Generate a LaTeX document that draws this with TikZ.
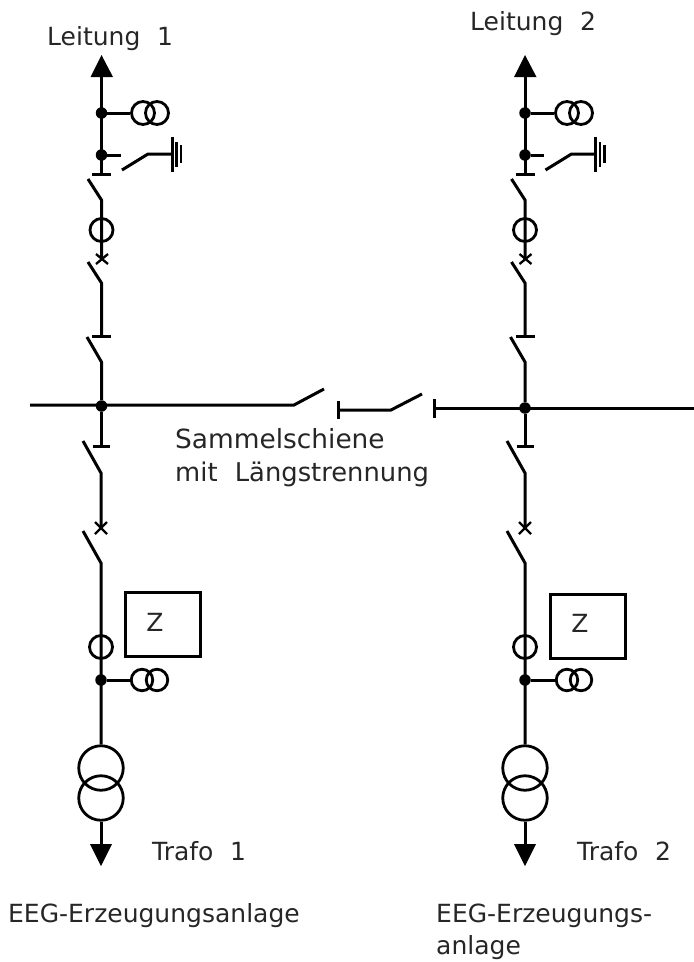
\documentclass[tikz,border=0pt]{standalone}
\usepackage{fontspec}
\setmainfont[WordSpace=2.1]{DejaVu Sans}
\usetikzlibrary{calc,arrows}
\tikzset{
    wire/.style={line width=3pt,line cap=butt},
    thinwire/.style={line width=2.3pt,line cap=butt},
    junction/.style={circle,fill=black,inner sep=0pt,minimum size=11.5pt},
    ring/.style={circle,draw,line width=2.8pt,inner sep=0pt,minimum size=#1},
    ring/.default=23pt,
    arrowhead/.style={fill=black,draw=none},
    caption/.style={anchor=base west,inner sep=0pt,text=black!85,font=\fontsize{25}{30}\selectfont},
    meter/.style={draw,line width=3pt,inner sep=0pt}
}
\begin{document}
\begin{tikzpicture}[x=1pt,y=-1pt]
            \useasboundingbox (0, 0) rectangle (694, 962);
            % busbar with its sectionalizer
            \node[junction] (busA) at (101.5, 406) {};
            \node[junction] (busB) at (525, 408) {};
            \coordinate (busL) at (30, 405);
            \coordinate (busAhinge) at (294, 405);
            \coordinate (busAblade) at (324, 389);
            \coordinate (midbar) at (338, 410);
            \coordinate (midhinge) at (391, 410);
            \coordinate (midblade) at (422, 394);
            \coordinate (busBbar) at (434, 408);
            \coordinate (busR) at (694, 408);
            \draw [wire] (busL) -- (busAhinge) -- (busAblade);
            \draw [wire] (midbar) -- (midhinge) -- (midblade);
            \draw [wire] (busBbar) -- (busR);
            \draw [wire] (338, 401) -- (338, 419);
            \draw [wire] (434, 399) -- (434, 418);
            % column 1, line feeder
            \draw [arrowhead] (101.5, 55) -- (113, 77) -- (90.5, 77) -- cycle;
            \node[junction] (vtA) at (101.5, 113) {};
            \node[junction] (esA) at (101.5, 155) {};
            \node[ring] (vtAa) at (143, 113) {};
            \node[ring] (vtAb) at (157, 113) {};
            \node[ring] (ctA) at (101.5, 230) {};
            \coordinate (topA) at (101.5, 77);
            \coordinate (barA) at (101.5, 174);
            \coordinate (hingeA) at (101.5, 200);
            \coordinate (crossA) at (101.5, 259);
            \coordinate (hingeAb) at (101.5, 283);
            \coordinate (barAb) at (101.5, 336);
            \coordinate (hingeAc) at (101.5, 362);
            \draw [wire] (topA) -- (barA);
            \draw [wire] (vtA) -- (vtAa);
            \draw [wire] (esA) -- (121, 155);
            \draw [wire] (92, 174) -- (111, 174);
            \draw [wire] (122, 170) -- (148, 154) -- (172, 154);
            \draw [wire] (172, 137) -- (172, 172);
            \draw [thinwire] (176.5, 142) -- (176.5, 167);
            \draw [thinwire] (181, 145) -- (181, 163);
            \draw [wire] (88, 179) -- (hingeA) -- (crossA);
            \draw [thinwire] (96, 254) -- (108, 264);
            \draw [thinwire] (96, 264) -- (108, 254);
            \draw [wire] (88, 262) -- (hingeAb) -- (barAb);
            \draw [wire] (92, 336) -- (111, 336);
            \draw [wire] (87, 337) -- (hingeAc) -- (busA);
            % column 1, transformer feeder
            \node[junction] (vtAlow) at (101, 680) {};
            \node[ring=21.5pt] (vtAc) at (142, 680) {};
            \node[ring=21.5pt] (vtAd) at (157, 680) {};
            \node[ring] (ctAlow) at (101, 647) {};
            \node[ring=44.5pt] (trafoA) at (101, 768) {};
            \node[ring=44.5pt] (trafoAb) at (101, 798) {};
            \node[meter,minimum width=75pt,minimum height=64pt] (zA) at (162.5, 624) {};
            \node[caption,anchor=center] (zAtext) at (155, 622) {Z};
            \coordinate (barAlow) at (101.5, 446);
            \coordinate (hingeAlow) at (101, 473);
            \coordinate (crossAlow) at (101, 528);
            \coordinate (hingeAend) at (101, 563);
            \coordinate (baseA) at (101, 844);
            \draw [wire] (busA) -- (barAlow);
            \draw [wire] (93, 446) -- (110, 446);
            \draw [wire] (83, 441) -- (hingeAlow) -- (crossAlow);
            \draw [thinwire] (95, 522) -- (107, 534);
            \draw [thinwire] (95, 534) -- (107, 522);
            \draw [wire] (83, 531) -- (hingeAend) -- (trafoA.north);
            \draw [wire] (vtAlow) -- (vtAc);
            \draw [wire] (trafoAb.south) -- (baseA);
            \draw [arrowhead] (90, 844) -- (112, 844) -- (101, 866) -- cycle;
            % column 2, line feeder
            \draw [arrowhead] (525, 55) -- (536.5, 77) -- (514, 77) -- cycle;
            \node[junction] (vtB) at (525, 113) {};
            \node[junction] (esB) at (525, 155) {};
            \node[ring] (vtBa) at (567, 113) {};
            \node[ring] (vtBb) at (581, 113) {};
            \node[ring] (ctB) at (525, 230) {};
            \coordinate (topB) at (525, 77);
            \coordinate (barB) at (525, 174);
            \coordinate (hingeB) at (525, 200);
            \coordinate (crossB) at (525, 259);
            \coordinate (hingeBb) at (525, 283);
            \coordinate (barBb) at (525, 336);
            \coordinate (hingeBc) at (525, 362);
            \draw [wire] (topB) -- (barB);
            \draw [wire] (vtB) -- (vtBa);
            \draw [wire] (esB) -- (544, 155);
            \draw [wire] (515.5, 174) -- (534.5, 174);
            \draw [wire] (545.5, 170) -- (571.5, 154) -- (595.5, 154);
            \draw [wire] (595.5, 137) -- (595.5, 172);
            \draw [thinwire] (600, 142) -- (600, 167);
            \draw [thinwire] (604.5, 145) -- (604.5, 163);
            \draw [wire] (511.5, 179) -- (hingeB) -- (crossB);
            \draw [thinwire] (519.5, 254) -- (531.5, 264);
            \draw [thinwire] (519.5, 264) -- (531.5, 254);
            \draw [wire] (511.5, 262) -- (hingeBb) -- (barBb);
            \draw [wire] (515.5, 336) -- (534.5, 336);
            \draw [wire] (510.5, 337) -- (hingeBc) -- (busB);
            % column 2, transformer feeder
            \node[junction] (vtBlow) at (525, 680) {};
            \node[ring=21.5pt] (vtBc) at (567, 680) {};
            \node[ring=21.5pt] (vtBd) at (581, 680) {};
            \node[ring] (ctBlow) at (525, 647) {};
            \node[ring=44.5pt] (trafoB) at (525, 768) {};
            \node[ring=44.5pt] (trafoBb) at (525, 798) {};
            \node[meter,minimum width=75pt,minimum height=64pt] (zB) at (587.5, 626) {};
            \node[caption,anchor=center] (zBtext) at (580, 623) {Z};
            \coordinate (barBlow) at (525, 446);
            \coordinate (hingeBlow) at (525, 473);
            \coordinate (crossBlow) at (525, 528);
            \coordinate (hingeBend) at (525, 563);
            \coordinate (baseB) at (525, 844);
            \draw [wire] (busB) -- (barBlow);
            \draw [wire] (516.5, 446) -- (533.5, 446);
            \draw [wire] (507, 441) -- (hingeBlow) -- (crossBlow);
            \draw [thinwire] (519, 522) -- (531, 534);
            \draw [thinwire] (519, 534) -- (531, 522);
            \draw [wire] (507, 531) -- (hingeBend) -- (trafoB.north);
            \draw [wire] (vtBlow) -- (vtBc);
            \draw [wire] (trafoBb.south) -- (baseB);
            \draw [arrowhead] (514, 844) -- (536, 844) -- (525, 866) -- cycle;
            % labels
            \node[caption] (leitungA) at (47, 45) {Leitung 1};
            \node[caption] (leitungB) at (470, 30) {Leitung 2};
            \node[caption,font=\fontsize{26.4}{30}\selectfont] (sammel) at (175, 448) {Sammelschiene};
            \node[caption,font=\fontsize{25.8}{30}\selectfont] (laengs) at (175, 481) {mit Längstrennung};
            \node[caption] (trafoAtext) at (152, 860) {Trafo 1};
            \node[caption] (trafoBtext) at (577, 860) {Trafo 2};
            \node[caption] (eegA) at (8, 922) {EEG-Erzeugungsanlage};
            \node[caption] (eegB) at (436, 922) {EEG-Erzeugungs-};
            \node[caption] (eegBb) at (436, 954) {anlage};
        \end{tikzpicture}
\end{document}
